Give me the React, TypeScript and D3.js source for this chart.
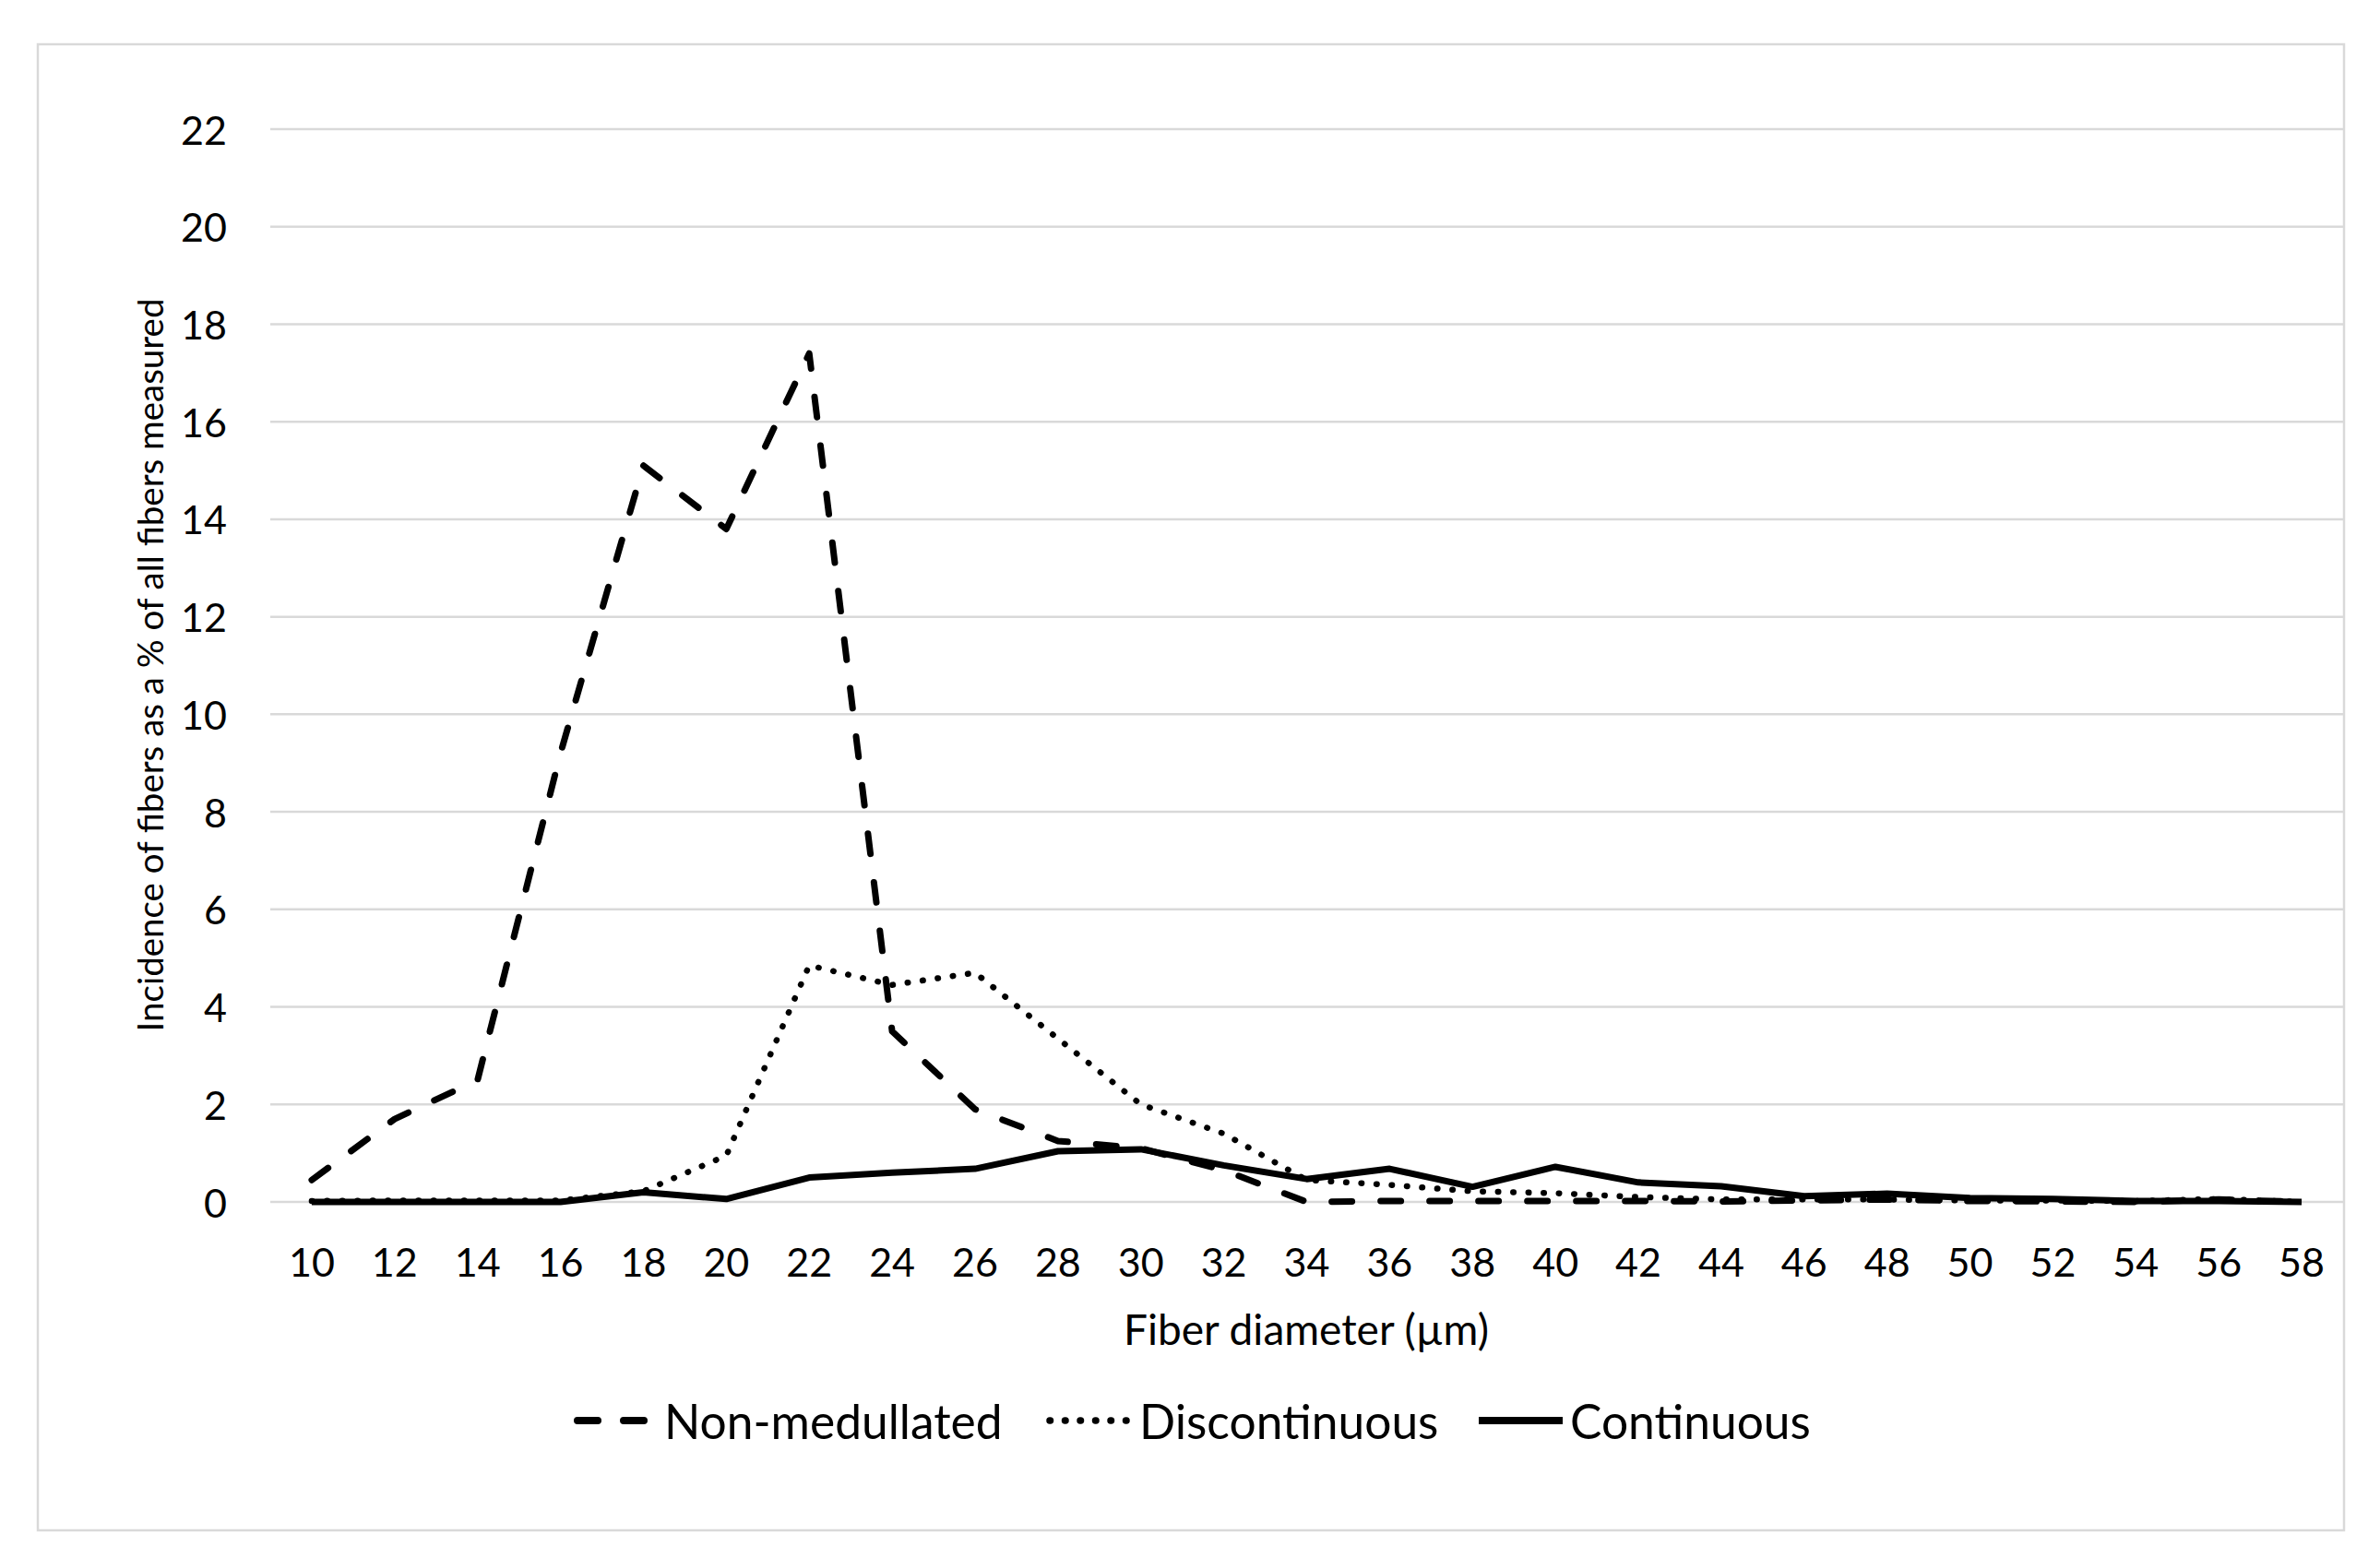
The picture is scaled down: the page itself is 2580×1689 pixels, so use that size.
import React from "react";
import * as d3 from "d3";

const categories = [10, 12, 14, 16, 18, 20, 22, 24, 26, 28, 30, 32, 34, 36, 38, 40, 42, 44, 46, 48, 50, 52, 54, 56, 58];
const nonMedullated = [0.45, 1.7, 2.5, 9.2, 15.1, 13.8, 17.4, 3.5, 1.9, 1.25, 1.1, 0.65, 0.0, 0.02, 0.02, 0.02, 0.02, 0.01, 0.03, 0.05, 0.02, 0.01, 0.0, 0.05, 0.0];
const discontinuous = [0.02, 0.03, 0.03, 0.03, 0.22, 0.95, 4.85, 4.45, 4.7, 3.35, 2.0, 1.4, 0.45, 0.35, 0.22, 0.18, 0.1, 0.05, 0.05, 0.05, 0.03, 0.03, 0.02, 0.06, 0.0];
const continuous = [0, 0, 0, 0, 0.2, 0.06, 0.5, 0.6, 0.68, 1.04, 1.08, 0.75, 0.47, 0.68, 0.31, 0.72, 0.4, 0.32, 0.12, 0.17, 0.08, 0.06, 0.02, 0.02, 0.0];
const yTicks = [0, 2, 4, 6, 8, 10, 12, 14, 16, 18, 20, 22];
const seriesNames = ["Non-medullated", "Discontinuous", "Continuous"];
const xTitle = "Fiber diameter (\u00b5m)";
const yTitle = "Incidence of fibers as a % of all fibers measured";

const W = 2580;
const H = 1689;
const FONT = "Lato, 'Open Sans', sans-serif";

const styles = [
  { dash: "22 31", cap: "round" as const, width: 7 },
  { dash: "0.5 16", cap: "round" as const, width: 6.5 },
  { dash: null, cap: "butt" as const, width: 7 },
];

export default function App() {
  const x = d3.scalePoint<number>().domain(categories).range([293, 2540]).padding(0.5);
  const y = d3.scaleLinear().domain([0, 22]).range([1303, 140]);
  const line = d3
    .line<number>()
    .x((_, i) => x(categories[i]) as number)
    .y((d) => y(d));
  const data = [nonMedullated, discontinuous, continuous];

  const legendItems = [
    { x0: 622, x1: 708, tx: 720 },
    { x0: 1134, x1: 1225, tx: 1235 },
    { x0: 1603, x1: 1694, tx: 1702 },
  ];

  return (
    <svg
      width={W}
      height={H}
      style={{ position: "absolute", left: 0, top: 0, display: "block", background: "#fff" }}
    >
      <rect x={0} y={0} width={W} height={H} fill="#fff" />
      <rect x={41} y={48} width={2500} height={1611} fill="#fff" stroke="#d9d9d9" strokeWidth={2.5} />
      {yTicks.map((t) => (
        <g key={t}>
          <line x1={293} x2={2540} y1={y(t)} y2={y(t)} stroke="#d9d9d9" strokeWidth={2.5} />
          <text
            x={246}
            y={y(t)}
            textAnchor="end"
            dominantBaseline="central"
            fontFamily={FONT}
            fontSize={43}
            fill="#000"
          >
            {t}
          </text>
        </g>
      ))}
      {categories.map((c) => (
        <text
          key={c}
          x={x(c)}
          y={1367}
          textAnchor="middle"
          dominantBaseline="central"
          fontFamily={FONT}
          fontSize={43}
          fill="#000"
        >
          {c}
        </text>
      ))}
      {data.map((d, i) => (
        <path
          key={i}
          d={line(d) || ""}
          fill="none"
          stroke="#000"
          strokeWidth={styles[i].width}
          strokeDasharray={styles[i].dash || undefined}
          strokeLinecap={styles[i].cap}
          strokeLinejoin="round"
        />
      ))}
      <text
        x={1416}
        y={1440}
        textAnchor="middle"
        dominantBaseline="central"
        fontFamily={FONT}
        fontSize={46}
        fill="#000"
      >
        {xTitle}
      </text>
      <text
        transform="translate(162,721) rotate(-90)"
        textAnchor="middle"
        dominantBaseline="central"
        fontFamily={FONT}
        fontSize={38.5}
        fill="#000"
      >
        {yTitle}
      </text>
      {legendItems.map((l, i) => (
        <g key={i}>
          <line
            x1={l.x0 + (styles[i].cap === "round" ? 4 : 0)}
            x2={l.x1 - (styles[i].cap === "round" ? 4 : 0)}
            y1={1540}
            y2={1540}
            stroke="#000"
            strokeWidth={styles[i].width + 1}
            strokeDasharray={i === 0 ? "22 28" : styles[i].dash || undefined}
            strokeLinecap={styles[i].cap}
          />
          <text
            x={l.tx}
            y={1540}
            dominantBaseline="central"
            fontFamily={FONT}
            fontSize={51.5}
            fill="#000"
          >
            {seriesNames[i]}
          </text>
        </g>
      ))}
    </svg>
  );
}
